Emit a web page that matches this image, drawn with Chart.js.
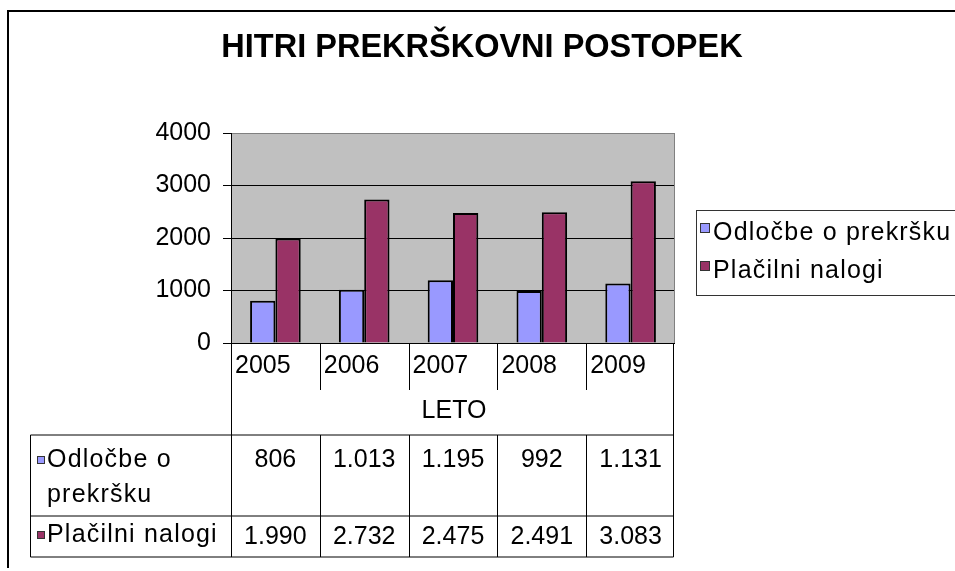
<!DOCTYPE html>
<html>
<head>
<meta charset="utf-8"/>
<title>Hitri prekrškovni postopek</title>
<script src="https://cdn.jsdelivr.net/npm/chart.js@4/dist/chart.umd.min.js"></script>
<style>
  body { margin: 0; background: #fff; }
  canvas { display: block; }
</style>
</head>
<body>
<canvas id="chart" width="955" height="571"></canvas>
<script>
var chartTitle = 'HITRI PREKRŠKOVNI POSTOPEK';
var years = ['2005', '2006', '2007', '2008', '2009'];
var axisTitle = 'LETO';
var seriesNames = ['Odločbe o prekršku', 'Plačilni nalogi'];
var odlocbe = [806, 1013, 1195, 992, 1131];
var placilni = [1990, 2732, 2475, 2491, 3083];
var yTicks = [0, 1000, 2000, 3000, 4000];

var fontFamily = "'Liberation Sans', Arial, sans-serif";
var colors = ['#9999ff', '#993366'];
var wordSpacing = '1.2px';

// 1013 -> 1.013 (slovenian thousands separator)
function fmt(v) {
    return String(v).replace(/\B(?=(\d{3})+(?!\d))/g, '.');
}

function wrapWords(ctx, text, maxW) {
    var words = text.split(' '), lines = [], line = '';
    for (var i = 0; i < words.length; i++) {
        var test = line ? line + ' ' + words[i] : words[i];
        if (line && ctx.measureText(test).width > maxW) {
            lines.push(line);
            line = words[i];
        } else line = test;
    }
    lines.push(line);
    return lines;
}

function keySquare(ctx, x, y, size, color) {
    ctx.fillStyle = color;
    ctx.fillRect(x, y, size, size);
    ctx.strokeStyle = '#333';
    ctx.lineWidth = 1;
    ctx.strokeRect(x + 0.5, y + 0.5, size - 1, size - 1);
}

function hline(ctx, x1, x2, y) {
    ctx.beginPath(); ctx.moveTo(x1, y); ctx.lineTo(x2, y); ctx.stroke();
}
function vline(ctx, x, y1, y2) {
    ctx.beginPath(); ctx.moveTo(x, y1); ctx.lineTo(x, y2); ctx.stroke();
}

var excelLook = {
    id: 'excelLook',
    beforeDraw: function(chart) {
        var ctx = chart.ctx, a = chart.chartArea;
        ctx.save();
        ctx.fillStyle = '#fff';
        ctx.fillRect(0, 0, chart.width, chart.height);
        // chart frame (runs off the right edge)
        ctx.strokeStyle = '#000';
        ctx.lineWidth = 2;
        ctx.beginPath();
        ctx.moveTo(8, 568); ctx.lineTo(8, 11); ctx.lineTo(chart.width, 11);
        ctx.stroke();
        // title
        ctx.fillStyle = '#000';
        ctx.font = 'bold 32.5px ' + fontFamily;
        ctx.textAlign = 'center';
        ctx.textBaseline = 'alphabetic';
        ctx.fillText(chartTitle, 482, 57);
        // plot area
        ctx.fillStyle = '#c0c0c0';
        ctx.fillRect(a.left, a.top, a.right - a.left, a.bottom - a.top);
        ctx.restore();
    },
    afterDatasetsDraw: function(chart) {
        var ctx = chart.ctx, a = chart.chartArea;
        ctx.save();
        ctx.strokeStyle = '#808080';
        ctx.lineWidth = 1;
        vline(ctx, a.right - 0.5, a.top, a.bottom);
        ctx.restore();
    },
    afterDraw: function(chart) {
        var ctx = chart.ctx, a = chart.chartArea;
        var xs = chart.scales.x;
        var catW = (a.right - a.left) / years.length;
        var left = a.left + 0.5, right = a.right - 1.5;
        var rowCat = a.bottom + 47, rowTop = a.bottom + 92, rowMid = a.bottom + 173, rowBot = a.bottom + 214;
        var tableLeft = 30.5;

        ctx.save();
        ctx.strokeStyle = '#000';
        ctx.lineWidth = 1;
        ctx.fillStyle = '#000';
        ctx.font = '25px ' + fontFamily;
        ctx.textBaseline = 'alphabetic';

        // category row and axis title
        vline(ctx, left, a.bottom, rowBot);
        vline(ctx, right, a.bottom, rowBot);
        ctx.textAlign = 'left';
        ctx.letterSpacing = '0px';
        years.forEach(function(y, i) {
            var x0 = xs.getPixelForValue(i) - catW / 2;
            if (i > 0) vline(ctx, Math.round(x0) + 0.5, a.bottom, rowCat);
            ctx.fillText(y, x0 + 4, a.bottom + 30);
        });
        ctx.textAlign = 'center';
        ctx.fillText(axisTitle, (a.left + a.right) / 2 + 1, a.bottom + 75);

        // data table
        hline(ctx, tableLeft, right, rowTop);
        hline(ctx, tableLeft, right, rowMid);
        hline(ctx, tableLeft, right, rowBot);
        vline(ctx, tableLeft, rowTop, rowBot);
        years.forEach(function(y, i) {
            var x0 = xs.getPixelForValue(i) - catW / 2;
            if (i > 0) vline(ctx, Math.round(x0) + 0.5, rowTop, rowBot);
        });
        var rows = [odlocbe, placilni];
        var rowBases = [rowTop + 32, rowMid + 26];
        rows.forEach(function(vals, r) {
            var base = rowBases[r];
            keySquare(ctx, 37, base - 11, 8, colors[r]);
            ctx.fillStyle = '#000';
            ctx.textAlign = 'left';
            ctx.letterSpacing = wordSpacing;
            var lines = wrapWords(ctx, seriesNames[r], a.left - 50);
            lines.forEach(function(l, k) {
                ctx.fillText(l, 47, base + k * 35);
            });
            ctx.textAlign = 'center';
            ctx.letterSpacing = '0px';
            vals.forEach(function(v, i) {
                ctx.fillText(fmt(v), xs.getPixelForValue(i), base + (r === 0 ? 0 : 2));
            });
        });

        // legend box (clipped at the right edge like the original)
        ctx.lineWidth = 1;
        ctx.strokeRect(696.5, 210.5, 300, 85);
        ctx.textAlign = 'left';
        ctx.letterSpacing = wordSpacing;
        seriesNames.forEach(function(name, i) {
            var y = 240 + i * 38;
            keySquare(ctx, 700, y - 17, 10, colors[i]);
            ctx.fillStyle = '#000';
            ctx.fillText(name, 713, y);
        });
        ctx.restore();
    }
};

new Chart(document.getElementById('chart'), {
    type: 'bar',
    data: {
        labels: years,
        datasets: [
            { label: seriesNames[0], data: odlocbe, backgroundColor: colors[0] },
            { label: seriesNames[1], data: placilni, backgroundColor: colors[1] }
        ]
    },
    options: {
        responsive: false,
        animation: false,
        events: [],
        layout: { padding: { left: 0, top: 133, right: 280, bottom: 228 } },
        datasets: {
            bar: {
                borderColor: '#000',
                borderWidth: 2,
                categoryPercentage: 0.57,
                barPercentage: 1.0
            }
        },
        scales: {
            x: { display: false },
            y: {
                min: 0,
                max: 4000,
                afterFit: function(s) { s.width = 231; },
                afterBuildTicks: function(s) {
                    s.ticks = yTicks.map(function(v) { return { value: v }; });
                },
                ticks: {
                    color: '#000',
                    padding: 12,
                    font: { family: fontFamily, size: 25 },
                    callback: function(v) { return String(v); }
                },
                grid: {
                    color: function(c) { return c.tick && c.tick.value === 4000 ? '#808080' : '#000'; },
                    tickColor: '#000',
                    tickLength: 8,
                    lineWidth: 1
                },
                border: { color: '#000', width: 1 }
            }
        },
        plugins: {
            legend: { display: false },
            title: { display: false },
            tooltip: { enabled: false }
        }
    },
    plugins: [excelLook]
});
</script>
</body>
</html>
